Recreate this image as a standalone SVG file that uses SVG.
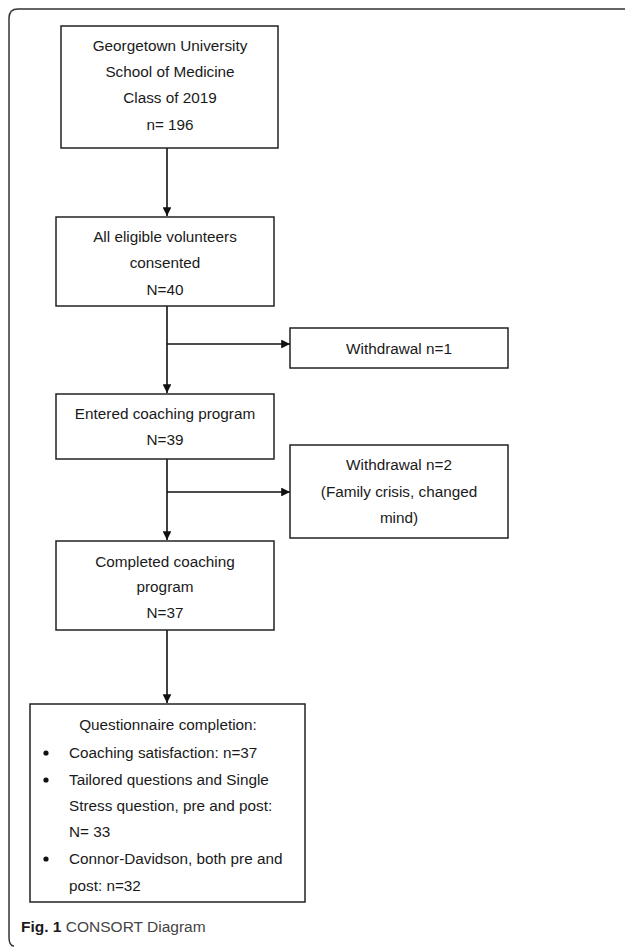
<svg xmlns="http://www.w3.org/2000/svg" width="625" height="947" viewBox="0 0 625 947">
<defs>
<style>
.box{fill:#fff;stroke:#222;stroke-width:1.5}
.t{font-family:"Liberation Sans",Arial,sans-serif;font-size:15.3px;fill:#1a1a1a}
.c{text-anchor:middle}
.ln{fill:none;stroke:#111;stroke-width:1.6}
.frame{fill:none;stroke:#333;stroke-width:1.5}
.cap{font-family:"Liberation Sans",Arial,sans-serif;font-size:15.5px}
</style>
<marker id="ah" viewBox="0 0 10 10" refX="10" refY="5" markerWidth="5.5" markerHeight="5.5" orient="auto" markerUnits="strokeWidth">
<path d="M0,0 L10,5 L0,10 Z" fill="#111"/>
</marker>
</defs>
<rect width="625" height="947" fill="#fff"/>
<path class="frame" d="M640,9 L18,9 Q9,9 9,18 L9,937 Q9,946 14,946"/>
<g id="connectors">
<line class="ln" x1="167" y1="148" x2="167" y2="216" marker-end="url(#ah)"/>
<line class="ln" x1="167" y1="306" x2="167" y2="393" marker-end="url(#ah)"/>
<line class="ln" x1="167" y1="344" x2="290" y2="344" marker-end="url(#ah)"/>
<line class="ln" x1="167" y1="459" x2="167" y2="540" marker-end="url(#ah)"/>
<line class="ln" x1="167" y1="492" x2="290" y2="492" marker-end="url(#ah)"/>
<line class="ln" x1="167" y1="630" x2="167" y2="703" marker-end="url(#ah)"/>
</g>
<g id="n1">
<rect class="box" x="61" y="26" width="217" height="122"/>
<text class="t c" x="170" y="51">Georgetown University</text>
<text class="t c" x="170" y="77">School of Medicine</text>
<text class="t c" x="170" y="103">Class of 2019</text>
<text class="t c" x="170" y="130">n= 196</text>
</g>
<g id="n2">
<rect class="box" x="56" y="217" width="218" height="89"/>
<text class="t c" x="165" y="242">All eligible volunteers</text>
<text class="t c" x="165" y="268">consented</text>
<text class="t c" x="165" y="295">N=40</text>
</g>
<g id="w1">
<rect class="box" x="290" y="328" width="218" height="40"/>
<text class="t c" x="399" y="354">Withdrawal n=1</text>
</g>
<g id="n3">
<rect class="box" x="56" y="394" width="218" height="65"/>
<text class="t c" x="165" y="419">Entered coaching program</text>
<text class="t c" x="165" y="445">N=39</text>
</g>
<g id="w2">
<rect class="box" x="290" y="445" width="218" height="93"/>
<text class="t c" x="399" y="470">Withdrawal n=2</text>
<text class="t c" x="399" y="497">(Family crisis, changed</text>
<text class="t c" x="399" y="523">mind)</text>
</g>
<g id="n4">
<rect class="box" x="56" y="541" width="218" height="89"/>
<text class="t c" x="165" y="567">Completed coaching</text>
<text class="t c" x="165" y="592">program</text>
<text class="t c" x="165" y="618">N=37</text>
</g>
<g id="n5">
<rect class="box" x="30" y="704" width="275" height="198"/>
<text class="t c" x="168" y="730">Questionnaire completion:</text>
<circle cx="46" cy="753" r="2.6" fill="#111"/>
<circle cx="46" cy="780" r="2.6" fill="#111"/>
<circle cx="46" cy="859" r="2.6" fill="#111"/>
<text class="t" x="69" y="758">Coaching satisfaction: n=37</text>
<text class="t" x="69" y="785">Tailored questions and Single</text>
<text class="t" x="69" y="811">Stress question, pre and post:</text>
<text class="t" x="69" y="837">N= 33</text>
<text class="t" x="69" y="864">Connor-Davidson, both pre and</text>
<text class="t" x="69" y="891">post: n=32</text>
</g>
<text class="cap" x="21" y="932"><tspan font-weight="bold" fill="#1a1a1a">Fig. 1</tspan><tspan fill="#444"> CONSORT Diagram</tspan></text>
</svg>
